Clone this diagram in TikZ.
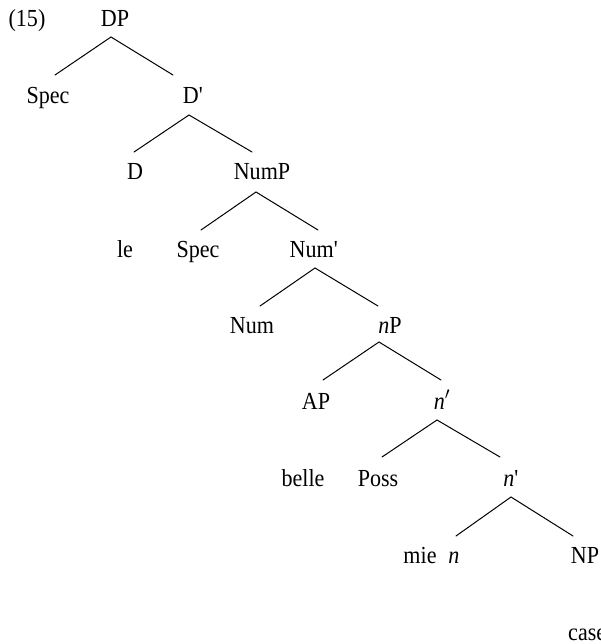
\documentclass[tikz,border=0pt]{standalone}
\usepackage{fontspec}
\setmainfont{Liberation Serif}[FakeStretch=0.9]
\begin{document}
\begin{tikzpicture}[x=1pt,y=-1pt,
  lab/.style={anchor=base,inner sep=0pt,font=\fontsize{24.5}{28}\selectfont},
  branch/.style={line width=1pt,line cap=round}]
\useasboundingbox (0,0) rectangle (600,644);
% labels
\node[lab] (ex) at (27,27) {(15)};
\node[lab] (DP) at (115,27) {DP};
\node[lab] (Spec1) at (48,104) {Spec};
\node[lab] (Dbar) at (193,104) {D\textquotesingle};
\node[lab] (D) at (135,180) {D};
\node[lab] (NumP) at (262,180) {NumP};
\node[lab] (le) at (125,257) {le};
\node[lab] (Spec2) at (198,257) {Spec};
\node[lab] (Numbar) at (314,257) {Num\textquotesingle};
\node[lab] (Num) at (252,333) {Num};
\node[lab] (nP) at (390,333) {\textit{n}P};
\node[lab] (AP) at (316,409) {AP};
\node[lab] (nbar1) at (442,409) {\textit{n}$'$};
\node[lab] (belle) at (303,486) {belle};
\node[lab] (Poss) at (378,486) {Poss};
\node[lab] (nbar2) at (511,486) {\textit{n}\textquotesingle};
\node[lab] (mie) at (420,563) {mie};
\node[lab] (n) at (454,563) {\textit{n}};
\node[lab] (NP) at (585,563) {NP};
\node[lab,anchor=base west] (case) at (568,640) {case};
% branch end points
\coordinate (DP-b) at (111,37);
\coordinate (Spec1-t) at (55,75);
\coordinate (Dbar-t) at (173,75);
\coordinate (Dbar-b) at (189,115);
\coordinate (D-t) at (134,152);
\coordinate (NumP-t) at (252,152);
\coordinate (NumP-b) at (256,192);
\coordinate (Spec2-t) at (201,230);
\coordinate (Numbar-t) at (318,230);
\coordinate (Numbar-b) at (315,268);
\coordinate (Num-t) at (260,306);
\coordinate (nP-t) at (378,306);
\coordinate (nP-b) at (379,342);
\coordinate (AP-t) at (323,380);
\coordinate (nbar1-t) at (441,380);
\coordinate (nbar1-b) at (437,420);
\coordinate (Poss-t) at (382,457);
\coordinate (nbar2-t) at (500,457);
\coordinate (nbar2-b) at (511,497);
\coordinate (n-t) at (456,536);
\coordinate (NP-t) at (573,536);
% branches
\draw[branch] (Spec1-t) -- (DP-b) -- (Dbar-t);
\draw[branch] (D-t) -- (Dbar-b) -- (NumP-t);
\draw[branch] (Spec2-t) -- (NumP-b) -- (Numbar-t);
\draw[branch] (Num-t) -- (Numbar-b) -- (nP-t);
\draw[branch] (AP-t) -- (nP-b) -- (nbar1-t);
\draw[branch] (Poss-t) -- (nbar1-b) -- (nbar2-t);
\draw[branch] (n-t) -- (nbar2-b) -- (NP-t);
\end{tikzpicture}
\end{document}
